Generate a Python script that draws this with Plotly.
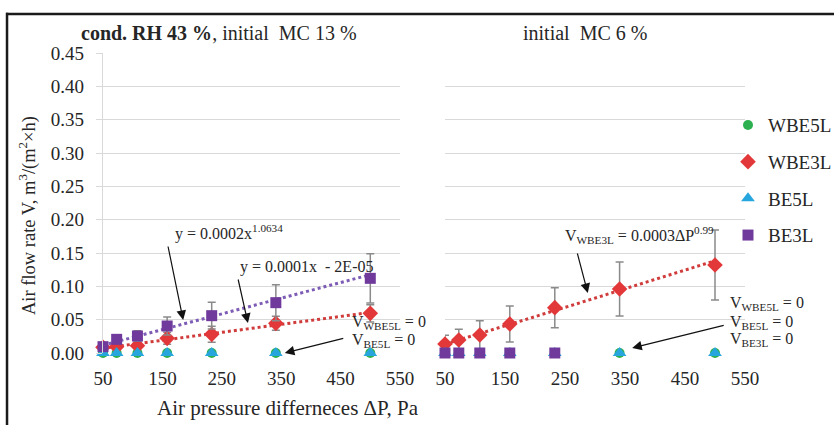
import numpy as np
import plotly.graph_objects as go

# Pressure steps, Pa
dp = [50, 73, 108, 158, 233, 341, 500]

# Left panel: RH 43 %, initial MC 13 %
wbe5l_a = [0, 0, 0, 0, 0, 0, 0]
wbe3l_a = [0.0085, 0.0095, 0.011, 0.022, 0.028, 0.0445, 0.0595]
wbe3l_a_err = [0.002, 0.003, 0.004, 0.009, 0.012, 0.0105, 0.013]
be5l_a = [0, 0, 0, 0, 0, 0, 0]
be3l_a = [0.0095, 0.0205, 0.0255, 0.0405, 0.056, 0.0755, 0.112]
be3l_a_err = [0.002, 0.004, 0.008, 0.0135, 0.02, 0.027, 0.037]

# Right panel: initial MC 6 %
wbe5l_b = [0, 0, 0, 0, 0, 0, 0]
wbe3l_b = [0.0135, 0.0195, 0.027, 0.0435, 0.068, 0.096, 0.132]
wbe3l_b_err = [0.013, 0.016, 0.0215, 0.027, 0.030, 0.0405, 0.0525]
be5l_b = [0, 0, 0, 0, 0, 0, 0]
dp_be3l_b = [50, 73, 108, 158, 233]
be3l_b = [0, 0, 0, 0, 0]

x_ticks = [50, 150, 250, 350, 450, 550]
y_ticks = [0, 0.05, 0.10, 0.15, 0.20, 0.25, 0.30, 0.35, 0.40, 0.45]

FONT = "Liberation Serif, Times New Roman, serif"
TXT = "#262626"
GREEN = "#2db04f"
RED = "#e2383a"
BLUE = "#27a6de"
PURPLE = "#6f3a9c"
ERR = "#8a8a8a"
GRID = "#d9d9d9"

def power_fit(x, y):
    b, ln_a = np.polyfit(np.log(x), np.log(y), 1)
    xs = np.linspace(min(x), max(x), 120)
    return xs, np.exp(ln_a) * xs ** b

def linear_fit(x, y):
    k, c = np.polyfit(x, y, 1)
    xs = np.linspace(min(x), max(x), 120)
    return xs, k * xs + c

fig = go.Figure()

# trendlines
tx, ty = power_fit(dp, be3l_a)
fig.add_trace(go.Scatter(x=tx, y=ty, mode="lines", showlegend=False, hoverinfo="skip",
                         line=dict(color="#7d5cb6", width=3, dash="dot"), xaxis="x", yaxis="y"))
tx, ty = linear_fit(dp, wbe3l_a)
fig.add_trace(go.Scatter(x=tx, y=ty, mode="lines", showlegend=False, hoverinfo="skip",
                         line=dict(color="#d03c3c", width=3, dash="dot"), xaxis="x", yaxis="y"))
tx, ty = power_fit(dp, wbe3l_b)
fig.add_trace(go.Scatter(x=tx, y=ty, mode="lines", showlegend=False, hoverinfo="skip",
                         line=dict(color="#d03c3c", width=3, dash="dot"), xaxis="x2", yaxis="y2"))

def err(arr):
    return dict(type="data", array=arr, visible=True, color=ERR, thickness=1.5, width=4)

series = [
    ("WBE5L", dict(symbol="circle", size=10, color=GREEN), (dp, wbe5l_a, None), (dp, wbe5l_b, None)),
    ("WBE3L", dict(symbol="diamond", size=12, color=RED), (dp, wbe3l_a, wbe3l_a_err), (dp, wbe3l_b, wbe3l_b_err)),
    ("BE5L", dict(symbol="triangle-up", size=12, color=BLUE), (dp, be5l_a, None), (dp, be5l_b, None)),
    ("BE3L", dict(symbol="square", size=11, color=PURPLE), (dp, be3l_a, be3l_a_err), (dp_be3l_b, be3l_b, None)),
]

for name, mk, left, right in series:
    for i, (xa, ya, (xs, ys, es)) in enumerate([("x", "y", left), ("x2", "y2", right)]):
        fig.add_trace(go.Scatter(
            x=xs, y=ys, mode="markers", name=name, legendgroup=name,
            showlegend=(i == 0), marker=mk, cliponaxis=False,
            error_y=err(es) if es is not None else None,
            xaxis=xa, yaxis=ya))

axis_font = dict(family=FONT, size=19, color=TXT)

fig.update_layout(
    width=834, height=425,
    margin=dict(l=103, r=89, t=53, b=72, autoexpand=False),
    plot_bgcolor="white", paper_bgcolor="white",
    font=dict(family=FONT, color=TXT),
    xaxis=dict(domain=[0, 0.4626], range=[50, 550], tickvals=x_ticks, showgrid=False,
               zeroline=False, showline=False, ticks="", tickfont=axis_font,
               ticklabelstandoff=12, anchor="y"),
    xaxis2=dict(domain=[0.5327, 1], range=[50, 550], tickvals=x_ticks, showgrid=False,
                zeroline=False, showline=False, ticks="", tickfont=axis_font,
                ticklabelstandoff=12, anchor="y2"),
    yaxis=dict(range=[0, 0.45], tickvals=y_ticks, tickformat=".2f", showgrid=True,
               gridcolor=GRID, gridwidth=1.2, zeroline=False, showline=True, linecolor=GRID,
               linewidth=1.2, ticks="outside", ticklen=6, tickcolor=GRID, tickfont=axis_font,
               ticklabelstandoff=8, anchor="x"),
    yaxis2=dict(range=[0, 0.45], tickvals=y_ticks, showticklabels=False, showgrid=True,
                gridcolor=GRID, gridwidth=1.2, zeroline=False, showline=False, ticks="",
                anchor="x2"),
    legend=dict(x=0.9735, y=0.823, xanchor="left", yanchor="top", bgcolor="rgba(0,0,0,0)",
                font=dict(family=FONT, size=19, color=TXT), tracegroupgap=9,
                itemwidth=30),
    showlegend=True,
)

ann = []
def text(x, y, t, xref="paper", yref="paper", size=16, xanchor="left", **kw):
    ann.append(dict(x=x, y=y, xref=xref, yref=yref, text=t, showarrow=False,
                    xanchor=xanchor, yanchor="middle",
                    font=dict(family=FONT, size=size, color=TXT), **kw))

def arrow(x0, y0, x1, y1, xr, yr):
    ann.append(dict(x=x1, y=y1, ax=x0, ay=y0, xref=xr, yref=yr, axref=xr, ayref=yr,
                    text="", showarrow=True, arrowhead=2, arrowsize=1.6, arrowwidth=1.2,
                    arrowcolor="#111"))

# panel titles and axis titles
text(0.1807, 1.0667, "<b>cond. RH 43 %</b>, initial  MC 13 %", size=20, xanchor="center")
text(0.7508, 1.0667, "initial  MC 6 %", size=20, xanchor="center")
text(-0.1168, 0.4567, "Air flow rate V, m<sup>3</sup>/(m<sup>2</sup>×h)", size=18.5,
     xanchor="center", textangle=-90)
text(0.288, -0.1833, "Air pressure differneces ΔP, Pa", size=21, xanchor="center")

# left panel labels
text(168, 0.1815, "y = 0.0002x<sup>1.0634</sup>", "x", "y")
text(277, 0.129, "y = 0.0001x  - 2E-05", "x", "y")
text(466, 0.0465, "V<sub>WBE5L</sub> = 0", "x", "y")
text(466, 0.0195, "V<sub>BE5L</sub> = 0", "x", "y")
arrow(159, 0.162, 185, 0.0495, "x", "y")
arrow(277, 0.1125, 294, 0.045, "x", "y")
arrow(457, 0.0225, 356, 0.0, "x", "y")

# right panel labels
text(246, 0.177, "V<sub>WBE3L</sub> = 0.0003ΔP<sup>0.99</sup>", "x2", "y2")
text(521, 0.075, "V<sub>WBE5L</sub> = 0", "x2", "y2")
text(521, 0.0465, "V<sub>BE5L</sub> = 0", "x2", "y2")
text(521, 0.021, "V<sub>BE3L</sub> = 0", "x2", "y2")
arrow(270, 0.1515, 288, 0.09, "x2", "y2")
arrow(517, 0.042, 362, 0.0075, "x2", "y2")

fig.update_layout(annotations=ann)

# outer frame (top and left edges)
fig.add_shape(type="line", xref="paper", yref="paper", x0=-0.1511, x1=1.14, y0=1.13, y1=1.13,
              line=dict(color="#1a1a1a", width=2.5))
fig.add_shape(type="line", xref="paper", yref="paper", x0=-0.1495, x1=-0.1495, y0=1.134, y1=-0.25,
              line=dict(color="#1a1a1a", width=2.5))

fig.write_html("out.html")
